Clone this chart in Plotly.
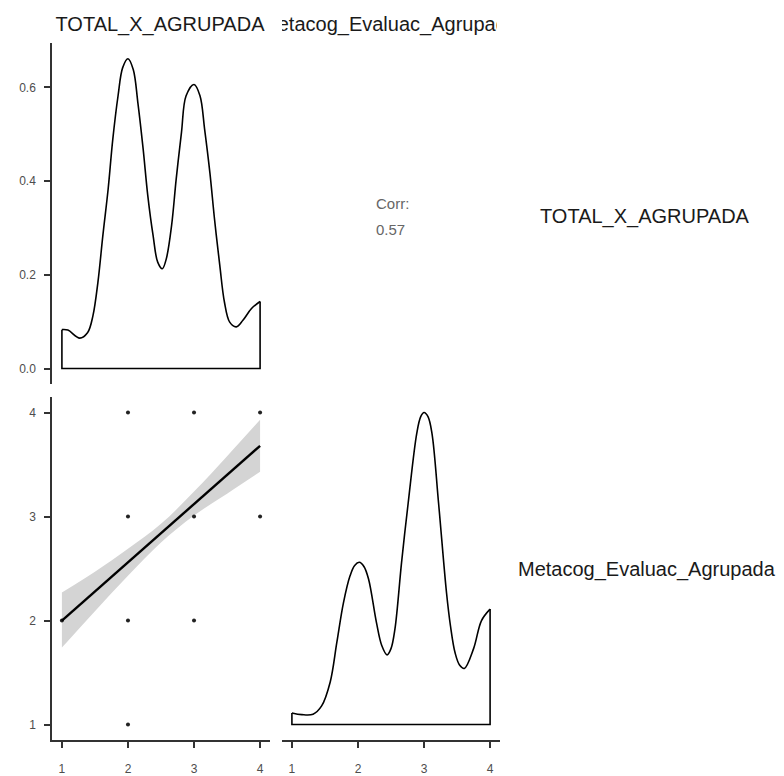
import plotly.graph_objects as go

# ---- data -------------------------------------------------------------
var_names = ["TOTAL_X_AGRUPADA", "Metacog_Evaluac_Agrupada"]
corr_value = 0.57

# kernel density of TOTAL_X_AGRUPADA (diagonal, top-left)
total_dens_x = [1.0, 1.09, 1.27, 1.39, 1.47, 1.545, 1.62, 1.70, 1.77, 1.85, 1.92, 2.0, 2.08,
                2.15, 2.23, 2.30, 2.38, 2.45, 2.52, 2.58, 2.66, 2.73, 2.81, 2.88, 3.0, 3.09,
                3.16, 3.24, 3.31, 3.39, 3.46, 3.54, 3.64, 3.74, 3.87, 4.0]
total_dens_y = [0.083, 0.082, 0.065, 0.077, 0.113, 0.184, 0.284, 0.383, 0.489, 0.582, 0.642,
                0.661, 0.638, 0.567, 0.468, 0.369, 0.284, 0.227, 0.213, 0.234, 0.305, 0.404,
                0.504, 0.582, 0.606, 0.582, 0.511, 0.418, 0.319, 0.220, 0.142, 0.099, 0.089,
                0.103, 0.128, 0.143]

# density of Metacog_Evaluac_Agrupada, rescaled to the row's 1-4 axis
meta_dens_x = [1.0, 1.15, 1.32, 1.45, 1.58, 1.68, 1.78, 1.88, 1.95, 2.02, 2.09, 2.16, 2.28,
               2.36, 2.44, 2.50, 2.56, 2.66, 2.76, 2.89, 2.95, 3.00, 3.06, 3.12, 3.22, 3.34,
               3.40, 3.47, 3.54, 3.61, 3.75, 3.87, 4.0]
meta_dens_y = [1.112, 1.096, 1.10, 1.18, 1.41, 1.79, 2.17, 2.43, 2.53, 2.56, 2.52, 2.40, 1.98,
               1.76, 1.67, 1.73, 1.92, 2.56, 3.13, 3.80, 3.96, 4.00, 3.96, 3.80, 3.13, 2.27,
               1.95, 1.69, 1.57, 1.54, 1.73, 2.00, 2.11]
meta_base = 1.0

# observed (TOTAL_X, Metacog) pairs
pts_total = [1, 2, 2, 2, 2, 3, 3, 3, 4, 4]
pts_meta = [2, 1, 2, 3, 4, 2, 3, 4, 3, 4]

# linear fit with 95% confidence band
fit_x = [1.0, 1.5, 2.0, 2.5, 3.0, 3.5, 4.0]
fit_y = [2.00, 2.28, 2.56, 2.84, 3.12, 3.40, 3.68]
fit_lo = [1.74, 2.09, 2.43, 2.75, 3.01, 3.22, 3.43]
fit_hi = [2.27, 2.47, 2.69, 2.93, 3.24, 3.58, 3.93]

dens_ticks = [0.0, 0.2, 0.4, 0.6]
dens_ticktext = ["0.0", "0.2", "0.4", "0.6"]
val_ticks = [1, 2, 3, 4]

# ---- layout helpers ---------------------------------------------------
W, H = 784, 776


def px_x(a, b):
    return [a / W, b / W]


def px_y(top, bottom):
    return [1 - bottom / H, 1 - top / H]


FONT = "Liberation Sans, Arial, sans-serif"
AX_COL = "#333333"
TICK_FONT = dict(family=FONT, size=12, color="#4d4d4d")
RNG = [0.85, 4.15]

LEFT_COL = px_x(52, 270)
RIGHT_COL = px_x(282, 500)
TOP_ROW = px_y(43, 386)
BOT_ROW = px_y(399, 744)

axis_common = dict(showgrid=False, zeroline=False, showline=True, linecolor=AX_COL,
                   linewidth=1.5, ticks="outside", ticklen=6, tickwidth=2, tickcolor=AX_COL,
                   tickfont=TICK_FONT, fixedrange=True)
hidden = dict(visible=False, showgrid=False, zeroline=False, fixedrange=True)

fig = go.Figure()

# top-left: density of TOTAL_X_AGRUPADA
fig.add_trace(go.Scatter(x=total_dens_x, y=total_dens_y, mode="lines",
                         line=dict(color="black", width=1.6, shape="spline", smoothing=1.0),
                         xaxis="x", yaxis="y", hoverinfo="skip"))
fig.add_trace(go.Scatter(x=[total_dens_x[0], total_dens_x[0], total_dens_x[-1], total_dens_x[-1]],
                         y=[total_dens_y[0], 0, 0, total_dens_y[-1]], mode="lines",
                         line=dict(color="black", width=1.6), xaxis="x", yaxis="y",
                         hoverinfo="skip"))

# bottom-left: scatter with linear fit
fig.add_trace(go.Scatter(x=fit_x, y=fit_lo, mode="lines", line=dict(width=0, shape="spline"),
                         xaxis="x3", yaxis="y3", hoverinfo="skip"))
fig.add_trace(go.Scatter(x=fit_x, y=fit_hi, mode="lines", line=dict(width=0, shape="spline"),
                         fill="tonexty", fillcolor="#d4d4d4", xaxis="x3", yaxis="y3",
                         hoverinfo="skip"))
fig.add_trace(go.Scatter(x=pts_total, y=pts_meta, mode="markers",
                         marker=dict(size=4, color="#222222"), xaxis="x3", yaxis="y3",
                         hoverinfo="skip"))
fig.add_trace(go.Scatter(x=fit_x, y=fit_y, mode="lines", line=dict(color="black", width=2.4),
                         xaxis="x3", yaxis="y3", hoverinfo="skip"))

# bottom-right: density of Metacog_Evaluac_Agrupada
fig.add_trace(go.Scatter(x=meta_dens_x, y=meta_dens_y, mode="lines",
                         line=dict(color="black", width=1.6, shape="spline", smoothing=1.0),
                         xaxis="x4", yaxis="y4", hoverinfo="skip"))
fig.add_trace(go.Scatter(x=[meta_dens_x[0], meta_dens_x[0], meta_dens_x[-1], meta_dens_x[-1]],
                         y=[meta_dens_y[0], meta_base, meta_base, meta_dens_y[-1]], mode="lines",
                         line=dict(color="black", width=1.6), xaxis="x4", yaxis="y4",
                         hoverinfo="skip"))

# column strips (text clipped to the strip width)
fig.add_trace(go.Scatter(x=[0.5], y=[0.5], mode="text", text=[var_names[0]],
                         textfont=dict(family=FONT, size=20, color="#1a1a1a"),
                         cliponaxis=True, xaxis="x5", yaxis="y5", hoverinfo="skip"))
fig.add_trace(go.Scatter(x=[0.5], y=[0.5], mode="text", text=[var_names[1]],
                         textfont=dict(family=FONT, size=20, color="#1a1a1a"),
                         cliponaxis=True, xaxis="x6", yaxis="y6", hoverinfo="skip"))

fig.update_layout(
    width=W, height=H, margin=dict(l=0, r=0, t=0, b=0),
    paper_bgcolor="white", plot_bgcolor="white", showlegend=False,
    xaxis=dict(hidden, domain=LEFT_COL, range=RNG),
    yaxis=dict(axis_common, domain=TOP_ROW, range=[-0.033, 0.695], tickvals=dens_ticks,
               ticktext=dens_ticktext, ticklabelstandoff=6),
    xaxis3=dict(axis_common, domain=LEFT_COL, range=RNG, tickvals=val_ticks,
                ticklabelstandoff=11, anchor="y3"),
    yaxis3=dict(axis_common, domain=BOT_ROW, range=RNG, tickvals=val_ticks,
                ticklabelstandoff=6, anchor="x3"),
    xaxis4=dict(axis_common, domain=RIGHT_COL, range=RNG, tickvals=val_ticks,
                ticklabelstandoff=11, anchor="y4"),
    yaxis4=dict(hidden, domain=BOT_ROW, range=RNG, anchor="x4"),
    xaxis5=dict(hidden, domain=px_x(48, 272), range=[0, 1], anchor="y5"),
    yaxis5=dict(hidden, domain=px_y(10, 42), range=[0, 1], anchor="x5"),
    xaxis6=dict(hidden, domain=px_x(282, 497), range=[0, 1], anchor="y6"),
    yaxis6=dict(hidden, domain=px_y(10, 42), range=[0, 1], anchor="x6"),
    annotations=[
        dict(text="Corr:", x=392 / W, y=1 - 205 / H, xref="paper", yref="paper",
             xanchor="center", yanchor="middle", showarrow=False,
             font=dict(family=FONT, size=15, color="#666666")),
        dict(text=f"{corr_value:.2f}", x=390 / W, y=1 - 231 / H, xref="paper", yref="paper",
             xanchor="center", yanchor="middle", showarrow=False,
             font=dict(family=FONT, size=15, color="#666666")),
        dict(text=var_names[0], x=645 / W, y=1 - 218 / H, xref="paper", yref="paper",
             xanchor="center", yanchor="middle", showarrow=False,
             font=dict(family=FONT, size=20, color="#1a1a1a")),
        dict(text=var_names[1], x=647 / W, y=1 - 572 / H, xref="paper", yref="paper",
             xanchor="center", yanchor="middle", showarrow=False,
             font=dict(family=FONT, size=20, color="#1a1a1a")),
    ],
)

fig.write_html("out.html")
